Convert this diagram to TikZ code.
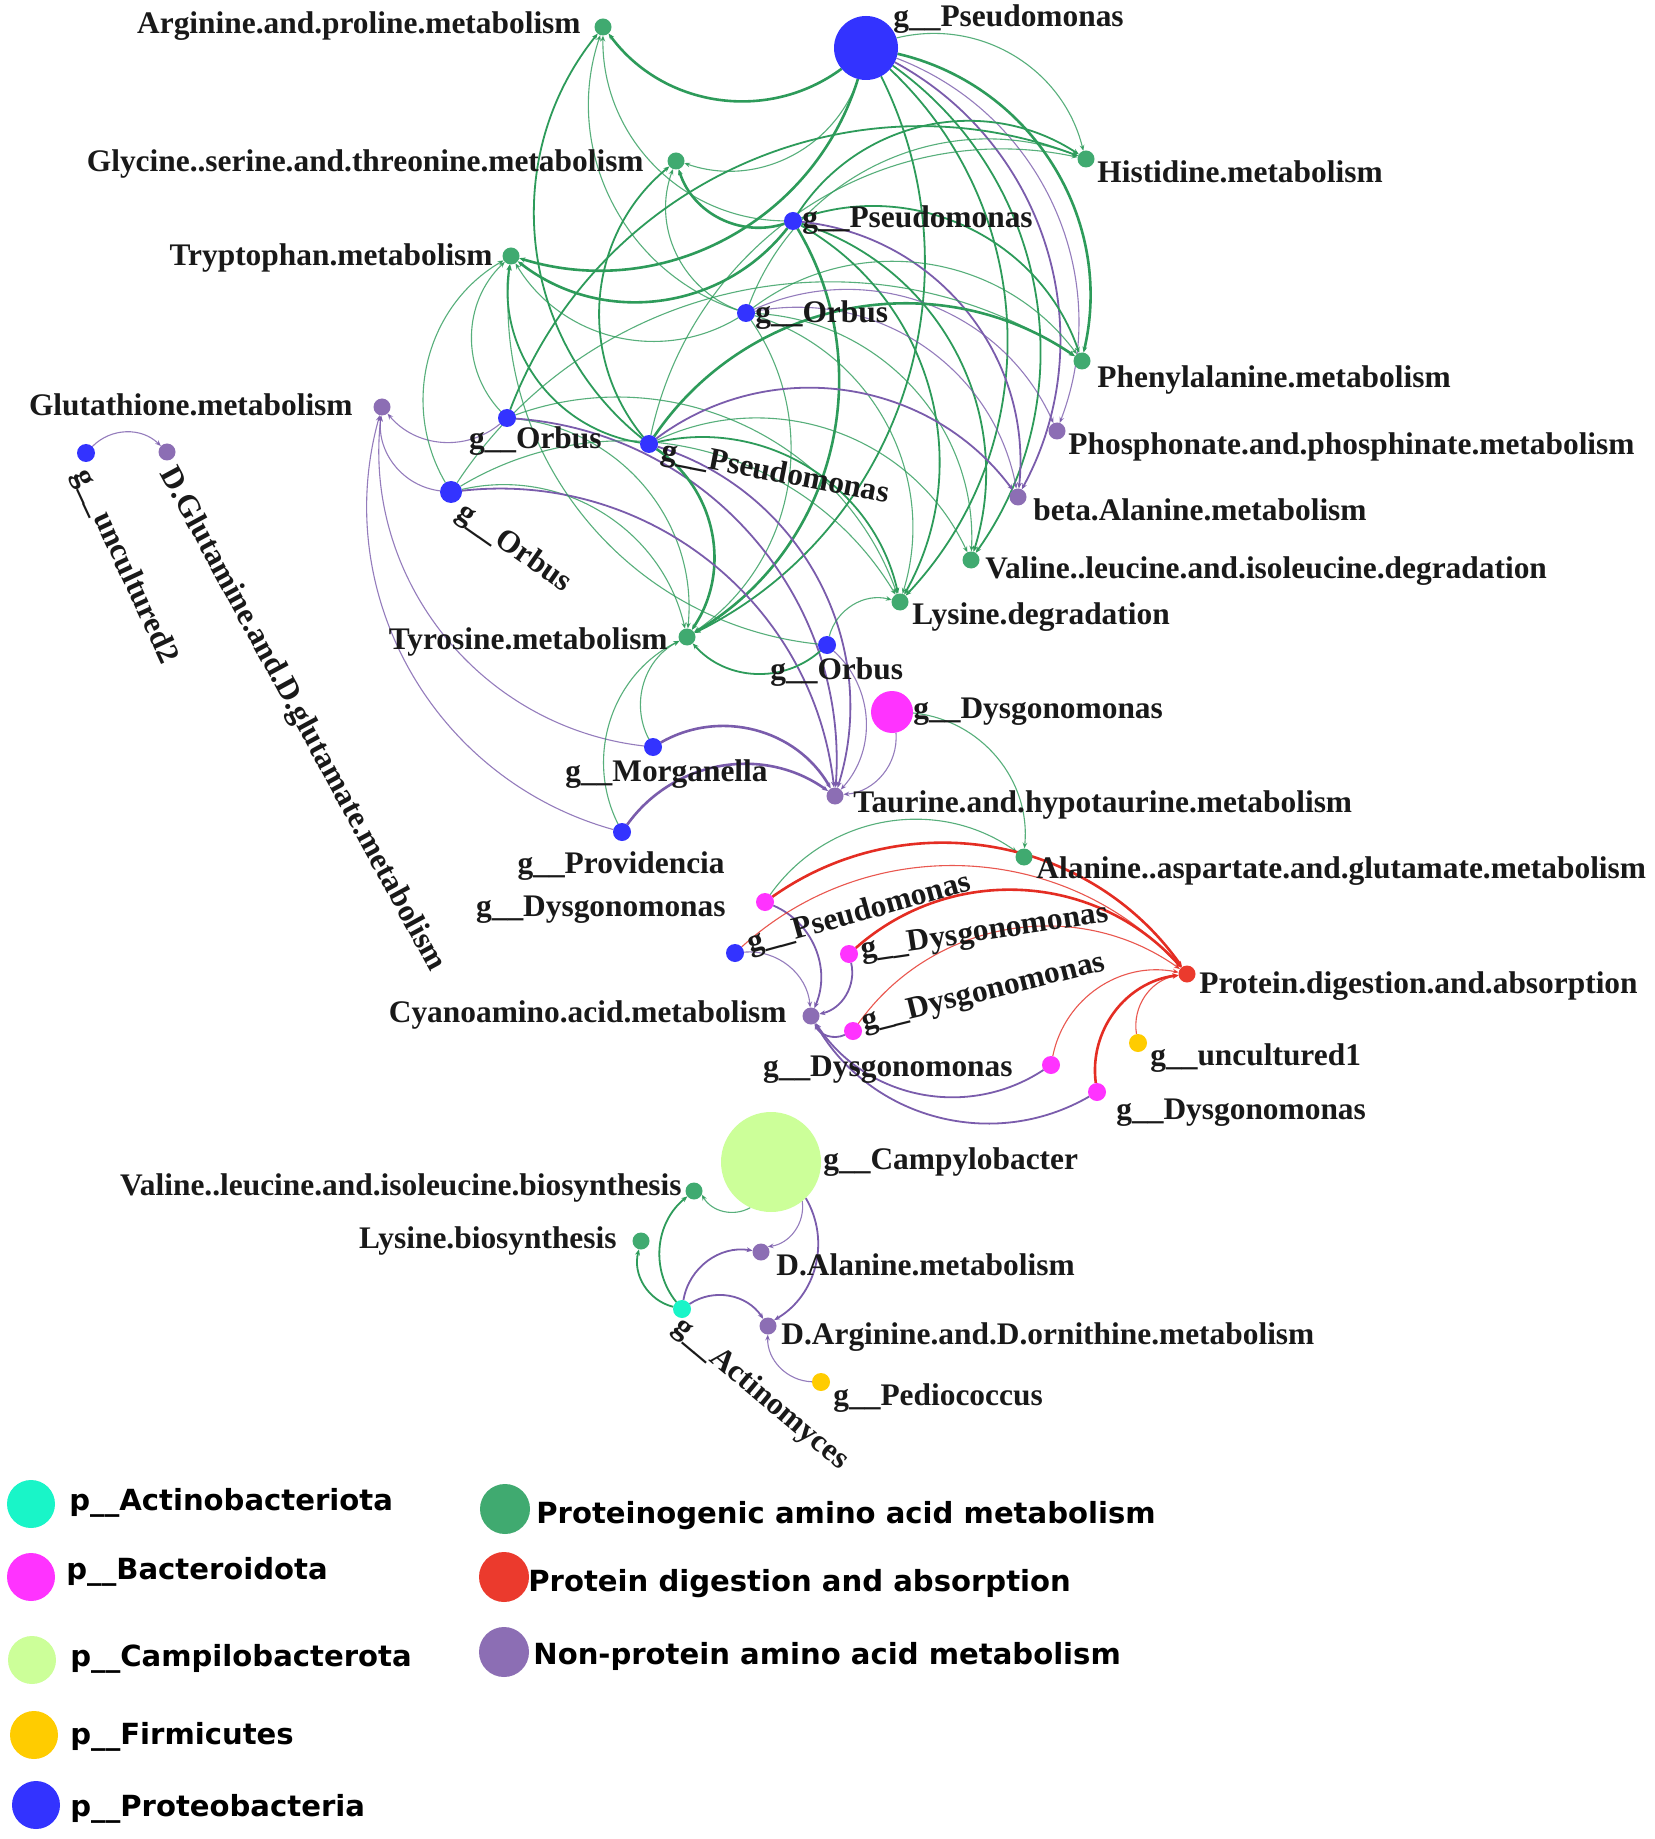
\documentclass[tikz,border=0pt]{standalone}
\usepackage{fontspec}
\setmainfont{Liberation Serif}
\newfontfamily\legfont{DejaVu Sans}
\usetikzlibrary{arrows.meta}
\definecolor{cBlue}{RGB}{51,51,255}
\definecolor{cMag}{RGB}{255,51,255}
\definecolor{cLime}{RGB}{204,255,153}
\definecolor{cYel}{RGB}{255,204,0}
\definecolor{cCyan}{RGB}{25,245,200}
\definecolor{cGrn}{RGB}{64,170,112}
\definecolor{cPur}{RGB}{140,110,180}
\definecolor{cRed}{RGB}{235,58,45}
\definecolor{eGrn}{RGB}{45,155,90}
\definecolor{ePur}{RGB}{122,92,172}
\definecolor{eRed}{RGB}{228,45,35}
\definecolor{txt}{RGB}{25,25,25}
\pgfdeclarelayer{bg}
\pgfdeclarelayer{edges}
\pgfsetlayers{bg,edges,main}
\begin{document}
\begin{tikzpicture}[x=0.5pt,y=0.5pt,
  nd/.style={circle, inner sep=0pt, outer sep=0pt, draw=none, minimum size=#1},
  met/.style={nd=8.5pt},
  gen/.style={nd=9pt},
  lab/.style={inner sep=0pt, text=txt, font=\bfseries\fontsize{15.7}{18}\selectfont},
  legt/.style={inner sep=0pt, text=black, font=\legfont\bfseries\fontsize{14.55}{17}\selectfont},
  e/.style={-{Stealth[length=3pt,width=2.4pt]}, bend left=45},
  eg/.style={draw=eGrn},
  ep/.style={draw=ePur},
  er/.style={draw=eRed},
  wA/.style={line width=0.55pt, draw opacity=0.8},
  wB/.style={line width=0.9pt},
  wC/.style={line width=1.3pt}]
\begin{pgfonlayer}{bg}
\fill[white] (0,0) rectangle (1654,-1839);
\end{pgfonlayer}
\useasboundingbox (0,0) rectangle (1654,-1839);

% ---------- metabolism nodes
\node[met, fill=cGrn] (arg) at (603,-27) {};
\node[met, fill=cGrn] (gly) at (676,-161) {};
\node[met, fill=cGrn] (trp) at (511,-256) {};
\node[met, fill=cPur] (glut) at (382,-407) {};
\node[met, fill=cGrn] (his) at (1086,-159) {};
\node[met, fill=cGrn] (phe) at (1082,-361) {};
\node[met, fill=cPur] (phos) at (1057,-431) {};
\node[met, fill=cPur] (bala) at (1018,-497) {};
\node[met, fill=cGrn] (vald) at (971,-560) {};
\node[met, fill=cGrn] (lysd) at (900,-602) {};
\node[met, fill=cGrn] (tyr) at (687,-637) {};
\node[met, fill=cPur] (tau) at (835,-796) {};
\node[met, fill=cGrn] (alaasp) at (1024,-857) {};
\node[met, fill=cRed] (prot) at (1187,-974) {};
\node[met, fill=cPur] (cyano) at (811,-1016) {};
\node[met, fill=cPur] (dglu) at (167,-452) {};
\node[met, fill=cGrn] (valb) at (694,-1191) {};
\node[met, fill=cGrn] (lysb) at (641,-1241) {};
\node[met, fill=cPur] (dala) at (761,-1252) {};
\node[met, fill=cPur] (darg) at (768,-1326) {};

% ---------- genus nodes
\node[nd=32pt, fill=cBlue] (g1) at (866,-48) {};
\node[gen, fill=cBlue] (g2) at (793,-221) {};
\node[gen, fill=cBlue] (g3) at (746,-313) {};
\node[gen, fill=cBlue] (g4) at (507,-418) {};
\node[gen, fill=cBlue] (g5) at (649,-444) {};
\node[nd=11pt, fill=cBlue] (g6) at (451,-492) {};
\node[gen, fill=cBlue] (g7) at (827,-645) {};
\node[nd=21pt, fill=cMag] (g8) at (892,-712) {};
\node[gen, fill=cBlue] (g9) at (653,-747) {};
\node[gen, fill=cBlue] (g10) at (622,-832) {};
\node[gen, fill=cBlue] (g11) at (86,-453) {};
\node[gen, fill=cMag] (g12) at (765,-902) {};
\node[gen, fill=cBlue] (g13) at (735,-953) {};
\node[gen, fill=cMag] (g14) at (849,-954) {};
\node[gen, fill=cMag] (g15) at (853,-1031) {};
\node[gen, fill=cMag] (g16) at (1051,-1065) {};
\node[gen, fill=cYel] (g17) at (1138,-1043) {};
\node[gen, fill=cMag] (g18) at (1097,-1092) {};
\node[nd=50pt, fill=cLime] (g19) at (771,-1162) {};
\node[gen, fill=cCyan] (g20) at (682,-1309) {};
\node[gen, fill=cYel] (g21) at (821,-1382) {};

% ---------- labels
\node[lab, anchor=east] (lArg) at (581,-26) {Arginine.and.proline.metabolism};
\node[lab, anchor=east] (lGly) at (644,-164) {Glycine..serine.and.threonine.metabolism};
\node[lab, anchor=east] (lTrp) at (493,-258) {Tryptophan.metabolism};
\node[lab, anchor=east] (lGlut) at (353,-405) {Glutathione.metabolism};
\node[lab, anchor=west] (lG1) at (893,-19) {g\_\_Pseudomonas};
\node[lab, anchor=west] (lHis) at (1097,-172) {Histidine.metabolism};
\node[lab, anchor=west] (lG2) at (802,-220) {g\_\_Pseudomonas};
\node[lab, anchor=west] (lG3) at (755,-315) {g\_\_Orbus};
\node[lab, anchor=west] (lPhe) at (1097,-380) {Phenylalanine.metabolism};
\node[lab, anchor=west] (lPhos) at (1068,-447) {Phosphonate.and.phosphinate.metabolism};
\node[lab, anchor=east] (lG4) at (602,-441) {g\_\_Orbus};
\node[lab, anchor=west, rotate=-11] (lG5) at (662,-452) {g\_\_Pseudomonas};
\node[lab, anchor=west, rotate=-35] (lG6) at (459,-510) {g\_\_Orbus};
\node[lab, anchor=west] (lbAla) at (1033,-510) {beta.Alanine.metabolism};
\node[lab, anchor=west] (lValD) at (985,-571) {Valine..leucine.and.isoleucine.degradation};
\node[lab, anchor=west] (lLysD) at (912,-617) {Lysine.degradation};
\node[lab, anchor=east] (lTyr) at (668,-642) {Tyrosine.metabolism};
\node[lab, anchor=west] (lG7) at (770,-672) {g\_\_Orbus};
\node[lab, anchor=west] (lG8) at (913,-712) {g\_\_Dysgonomonas};
\node[lab, anchor=east] (lG9) at (768,-774) {g\_\_Morganella};
\node[lab, anchor=west] (lTau) at (853,-805) {Taurine.and.hypotaurine.metabolism};
\node[lab, anchor=east] (lG10) at (725,-866) {g\_\_Providencia};
\node[lab, anchor=west] (lAlaAsp) at (1036,-871) {Alanine..aspartate.and.glutamate.metabolism};
\node[lab, anchor=east] (lG12) at (726,-910) {g\_\_Dysgonomonas};
\node[lab, anchor=west, rotate=15.5] (lG13) at (748,-945) {g\_\_Pseudomonas};
\node[lab, anchor=west, rotate=8.5] (lG14) at (861,-952) {g\_\_Dysgonomonas};
\node[lab, anchor=west, rotate=14] (lG15) at (862,-1024) {g\_\_Dysgonomonas};
\node[lab, anchor=west] (lProt) at (1199,-986) {Protein.digestion.and.absorption};
\node[lab, anchor=east] (lCyano) at (787,-1015) {Cyanoamino.acid.metabolism};
\node[lab, anchor=east] (lG16) at (1013,-1070) {g\_\_Dysgonomonas};
\node[lab, anchor=west] (lG17) at (1150,-1058) {g\_\_uncultured1};
\node[lab, anchor=west] (lG18) at (1116,-1113) {g\_\_Dysgonomonas};
\node[lab, anchor=west] (lG19) at (823,-1162) {g\_\_Campylobacter};
\node[lab, anchor=east] (lValB) at (682,-1188) {Valine..leucine.and.isoleucine.biosynthesis};
\node[lab, anchor=east] (lLysB) at (617,-1241) {Lysine.biosynthesis};
\node[lab, anchor=west] (lDAla) at (776,-1265) {D.Alanine.metabolism};
\node[lab, anchor=west, rotate=-40] (lG20) at (677,-1324) {g\_\_Actinomyces};
\node[lab, anchor=west] (lDArg) at (781,-1337) {D.Arginine.and.D.ornithine.metabolism};
\node[lab, anchor=west] (lG21) at (833,-1398) {g\_\_Pediococcus};
\node[lab, anchor=west, rotate=-65] (lG11) at (80,-471) {g\_\_uncultured2};
\node[lab, anchor=west, rotate=-61.5] (lDGlu) at (166,-470) {D.Glutamine.and.D.glutamate.metabolism};

% ---------- legend
\node[nd=24pt, fill=cCyan] (k1) at (31,-1504) {};
\node[legt, anchor=west] (k1t) at (69,-1503) {p\_\_Actinobacteriota};
\node[nd=24pt, fill=cMag] (k2) at (31,-1577) {};
\node[legt, anchor=west] (k2t) at (66,-1572) {p\_\_Bacteroidota};
\node[nd=24pt, fill=cLime] (k3) at (32,-1660) {};
\node[legt, anchor=west] (k3t) at (70,-1659) {p\_\_Campilobacterota};
\node[nd=24pt, fill=cYel] (k4) at (34,-1735) {};
\node[legt, anchor=west] (k4t) at (70,-1737) {p\_\_Firmicutes};
\node[nd=24pt, fill=cBlue] (k5) at (36,-1805) {};
\node[legt, anchor=west] (k5t) at (70,-1809) {p\_\_Proteobacteria};
\node[nd=25pt, fill=cGrn] (k6) at (505,-1509) {};
\node[legt, anchor=west] (k6t) at (536,-1516) {Proteinogenic amino acid metabolism};
\node[nd=25pt, fill=cRed] (k7) at (504,-1577) {};
\node[legt, anchor=west] (k7t) at (528,-1584) {Protein digestion and absorption};
\node[nd=25pt, fill=cPur] (k8) at (504,-1652) {};
\node[legt, anchor=west] (k8t) at (533,-1656) {Non-protein amino acid metabolism};

% ---------- edges
\begin{pgfonlayer}{edges}
% g1 big Pseudomonas
\draw[e,eg,wC] (g1) to (arg);
\draw[e,eg,wA] (g1) to (gly);
\draw[e,eg,wC] (g1) to (trp);
\draw[e,eg,wA] (g1) to (his);
\draw[e,eg,wC] (g1) to (phe);
\draw[e,ep,wA] (g1) to (phos);
\draw[e,ep,wB] (g1) to (bala);
\draw[e,eg,wB] (g1) to (vald);
\draw[e,eg,wB] (g1) to (lysd);
\draw[e,eg,wB] (g1) to (tyr);
% g2
\draw[e,eg,wA] (g2) to (arg);
\draw[e,eg,wC] (g2) to (gly);
\draw[e,eg,wC] (g2) to (trp);
\draw[e,eg,wB] (g2) to (his);
\draw[e,eg,wB] (g2) to (phe);
\draw[e,ep,wB] (g2) to (bala);
\draw[e,eg,wB] (g2) to (vald);
\draw[e,eg,wB] (g2) to (lysd);
\draw[e,eg,wC] (g2) to (tyr);
% g3
\draw[e,eg,wA] (g3) to (arg);
\draw[e,eg,wA] (g3) to (gly);
\draw[e,eg,wA] (g3) to (trp);
\draw[e,eg,wA] (g3) to (his);
\draw[e,eg,wA] (g3) to (phe);
\draw[e,ep,wA] (g3) to (phos);
\draw[e,ep,wA] (g3) to (bala);
\draw[e,eg,wA] (g3) to (vald);
\draw[e,eg,wA] (g3) to (lysd);
\draw[e,eg,wA] (g3) to (tyr);
% g4
\draw[e,eg,wA] (g4) to (trp);
\draw[e,eg,wB] (g4) to (his);
\draw[e,eg,wA] (g4) to (tyr);
\draw[e,eg,wA] (g4) to (lysd);
\draw[e,ep,wA] (g4) to (glut);
\draw[e,ep,wB] (g4) to (tau);
% g5
\draw[e,eg,wB] (g5) to (arg);
\draw[e,eg,wB] (g5) to (gly);
\draw[e,eg,wB] (g5) to (trp);
\draw[e,eg,wA] (g5) to (his);
\draw[e,eg,wC] (g5) to (phe);
\draw[e,ep,wB] (g5) to (bala);
\draw[e,eg,wA] (g5) to (vald);
\draw[e,eg,wB] (g5) to (lysd);
\draw[e,eg,wC] (g5) to (tyr);
\draw[e,ep,wB] (g5) to (tau);
% g6
\draw[e,eg,wA] (g6) to (trp);
\draw[e,eg,wA] (g6) to (tyr);
\draw[e,eg,wA] (g6) to (phe);
\draw[e,eg,wA] (g6) to (lysd);
\draw[e,ep,wA] (g6) to (glut);
\draw[e,ep,wB] (g6) to (tau);
% g7
\draw[e,eg,wA] (g7) to (trp);
\draw[e,eg,wB] (g7) to (tyr);
\draw[e,eg,wA] (g7) to (lysd);
\draw[e,ep,wA] (g7) to (tau);
% g8
\draw[e,eg,wA] (g8) to (alaasp);
\draw[e,ep,wA] (g8) to (tau);
% g9 Morganella
\draw[e,eg,wA] (g9) to (tyr);
\draw[e,ep,wC] (g9) to (tau);
\draw[e,ep,wA] (g9) to (glut);
% g10 Providencia
\draw[e,eg,wA] (g10) to (tyr);
\draw[e,ep,wC] (g10) to (tau);
\draw[e,ep,wA] (g10) to (glut);
% g11
\draw[e,ep,wA] (g11) to (dglu);
% lower cluster
\draw[e,eg,wA] (g12) to (alaasp);
\draw[e,er,wC] (g12) to (prot);
\draw[e,ep,wB] (g12) to (cyano);
\draw[e,er,wA] (g13) to (prot);
\draw[e,ep,wA] (g13) to (cyano);
\draw[e,er,wC] (g14) to (prot);
\draw[e,ep,wB] (g14) to (cyano);
\draw[e,er,wA] (g15) to (prot);
\draw[e,ep,wB] (g15) to (cyano);
\draw[e,er,wA] (g16) to (prot);
\draw[e,ep,wB] (g16) to (cyano);
\draw[e,er,wA] (g17) to (prot);
\draw[e,er,wC] (g18) to (prot);
\draw[e,ep,wB] (g18) to (cyano);
% bottom cluster
\draw[e,eg,wA] (g19) to (valb);
\draw[e,ep,wA] (g19) to (dala);
\draw[e,ep,wB] (g19) to (darg);
\draw[e,eg,wB] (g20) to (valb);
\draw[e,eg,wB] (g20) to (lysb);
\draw[e,ep,wB] (g20) to (dala);
\draw[e,ep,wB] (g20) to (darg);
\draw[e,ep,wA] (g21) to (darg);
\end{pgfonlayer}
\end{tikzpicture}
\end{document}
